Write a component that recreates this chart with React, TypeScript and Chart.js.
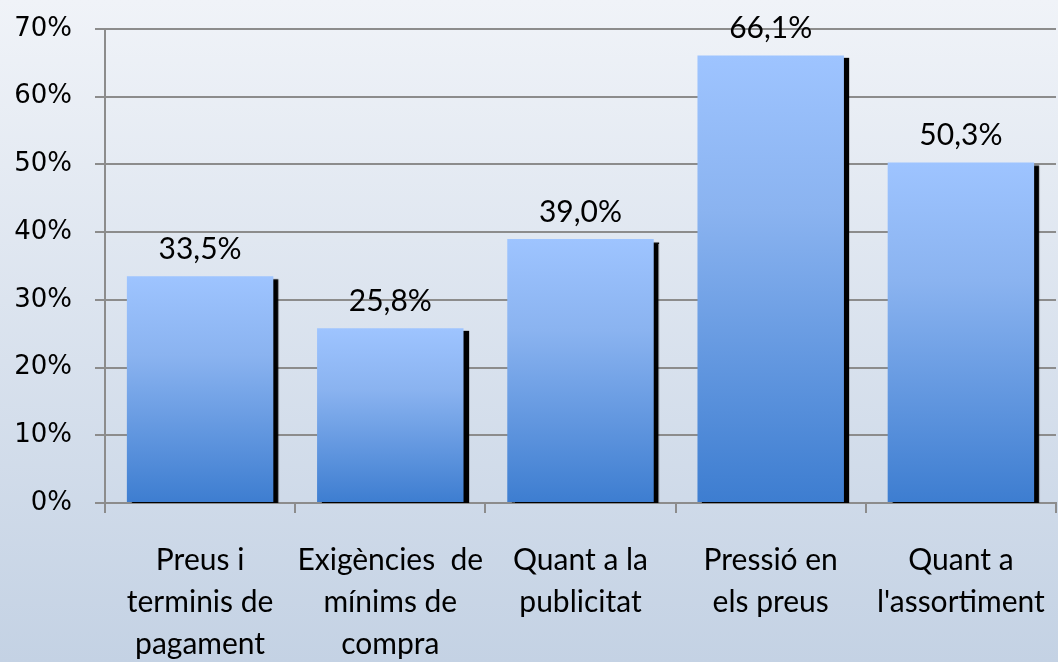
import React, { useEffect, useRef } from "react";
import { Chart, registerables } from "chart.js";

Chart.register(...registerables);

const categories: string[][] = [
  ["Preus i", "terminis de", "pagament"],
  ["Exigències  de", "mínims de", "compra"],
  ["Quant a la", "publicitat"],
  ["Pressió en", "els preus"],
  ["Quant a", "l'assortiment"],
];
const values: number[] = [33.5, 25.8, 39.0, 66.1, 50.3];
const valueLabels: string[] = ["33,5%", "25,8%", "39,0%", "66,1%", "50,3%"];
const yTicks: number[] = [0, 10, 20, 30, 40, 50, 60, 70];

const LABEL_FONT = "Lato, 'Open Sans', sans-serif";

const bgPlugin = {
  id: "bgGradient",
  beforeDraw(chart: any) {
    const { ctx, width, height } = chart;
    const g = ctx.createLinearGradient(0, 0, 0, height);
    g.addColorStop(0, "#f0f3f8");
    g.addColorStop(1, "#c4d2e4");
    ctx.save();
    ctx.fillStyle = g;
    ctx.fillRect(0, 0, width, height);
    ctx.restore();
  },
};

const shadowPlugin = {
  id: "barShadow",
  beforeDatasetsDraw(chart: any) {
    const ctx = chart.ctx;
    ctx.save();
    ctx.shadowColor = "rgba(0,0,0,1)";
    ctx.shadowOffsetX = 5;
    ctx.shadowOffsetY = 3;
    ctx.shadowBlur = 1;
  },
  afterDatasetsDraw(chart: any) {
    chart.ctx.restore();
  },
};

const labelPlugin = {
  id: "valueLabels",
  afterDatasetsDraw(chart: any) {
    const ctx = chart.ctx;
    const meta = chart.getDatasetMeta(0);
    ctx.save();
    ctx.shadowColor = "transparent";
    ctx.fillStyle = "#000";
    ctx.font = `30px ${LABEL_FONT}`;
    ctx.textAlign = "center";
    ctx.textBaseline = "alphabetic";
    meta.data.forEach((el: any, i: number) => {
      ctx.fillText(valueLabels[i], el.x, el.y - 17);
    });
    ctx.restore();
  },
};

export default function App() {
  const ref = useRef<HTMLCanvasElement>(null);
  useEffect(() => {
    document.body.style.margin = "0";
    const canvas = ref.current!;
    const chart = new Chart(canvas, {
      type: "bar",
      data: {
        labels: categories,
        datasets: [
          {
            data: values,
            backgroundColor: (c: any) => {
              const ch = c.chart;
              const area = ch.chartArea;
              if (!area || c.dataIndex === undefined) return "#6b9fe6";
              const y = ch.scales.y;
              const top = y.getPixelForValue(values[c.dataIndex]);
              const bottom = y.getPixelForValue(0);
              const g = ch.ctx.createLinearGradient(0, top, 0, bottom);
              g.addColorStop(0, "#9ec4ff");
              g.addColorStop(0.35, "#8ab3f0");
              g.addColorStop(1, "#3d7dd0");
              return g;
            },
            borderWidth: 0,
            barPercentage: 0.77,
            categoryPercentage: 1,
          },
        ],
      },
      options: {
        responsive: false,
        animation: false,
        layout: { padding: { top: 29, right: 2, left: 0, bottom: 0 } },
        plugins: {
          legend: { display: false },
          tooltip: { enabled: false },
        },
        scales: {
          x: {
            grid: {
              offset: true,
              drawOnChartArea: false,
              drawTicks: true,
              tickLength: 10,
              color: "#8c8c8c",
              lineWidth: 2,
            },
            border: { color: "#8c8c8c", width: 2 },
            ticks: {
              color: "#000",
              font: { family: LABEL_FONT, size: 30, lineHeight: 1.4 },
              padding: 26,
              maxRotation: 0,
              autoSkip: false,
            },
            afterFit(scale: any) {
              scale.height = 159;
              scale.paddingLeft = 0;
              scale.paddingRight = 0;
            },
          },
          y: {
            min: 0,
            max: 70,
            afterBuildTicks(scale: any) {
              scale.ticks = yTicks.map((v) => ({ value: v }));
            },
            grid: {
              color: "#8c8c8c",
              lineWidth: 2,
              tickLength: 10,
            },
            border: { color: "#8c8c8c", width: 2 },
            ticks: {
              color: "#000",
              font: { family: "'DejaVu Sans'", size: 26 },
              padding: 23,
              callback: (v: any) => `${v}%`,
            },
            afterFit(scale: any) {
              scale.width = 105;
              scale.paddingTop = 0;
              scale.paddingBottom = 0;
            },
          },
        },
      },
      plugins: [bgPlugin, shadowPlugin, labelPlugin],
    });
    return () => chart.destroy();
  }, []);
  return (
    <div style={{ width: 1058, height: 662 }}>
      <canvas ref={ref} width={1058} height={662} style={{ display: "block" }} />
    </div>
  );
}
